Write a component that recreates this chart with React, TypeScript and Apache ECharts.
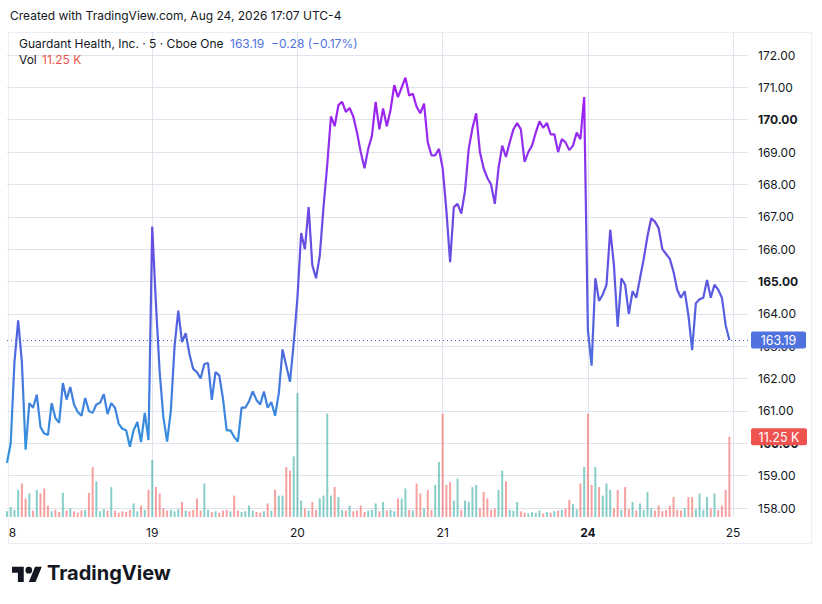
import React, { useEffect, useRef } from "react";
import * as echarts from "echarts";

// 10-minute samples of the last price, one array per trading day
const day18 = [159.4, 160.0, 162.5, 163.8, 162.5, 159.8, 161.24, 161.1, 161.5, 160.5, 160.3, 160.26, 161.24, 160.78, 160.63, 161.86, 161.35, 161.74, 161.2, 160.97, 160.85, 161.4, 161.0, 160.94, 161.2, 161.25, 161.52, 160.9, 161.24, 161.1, 160.6, 160.45, 160.4, 159.89, 160.4, 160.66, 160.04, 160.94, 160.1];
const day19 = [166.7, 164.3, 162.2, 160.8, 160.05, 161.0, 163.0, 164.1, 163.13, 163.4, 162.75, 162.3, 162.2, 162.0, 162.45, 162.48, 161.34, 162.2, 162.1, 161.38, 160.4, 160.4, 160.2, 160.05, 161.1, 161.1, 161.3, 161.6, 161.34, 161.2, 161.6, 161.1, 161.27, 160.85, 161.55, 162.9, 162.4, 161.9, 163.1];
const day20 = [164.5, 166.5, 166.0, 167.3, 165.5, 165.1, 165.8, 167.3, 168.6, 170.1, 169.8, 170.45, 170.55, 170.24, 170.36, 170.1, 169.6, 169.0, 168.5, 169.1, 169.5, 170.55, 169.7, 170.35, 169.8, 170.3, 171.07, 170.7, 171.0, 171.3, 170.75, 170.8, 170.4, 170.2, 170.5, 169.3, 168.9, 168.9, 169.1];
const day21 = [168.5, 167.2, 165.6, 167.3, 167.4, 167.1, 167.8, 169.1, 169.74, 170.2, 169.0, 168.5, 168.2, 168.0, 167.4, 168.5, 169.2, 168.85, 169.3, 169.7, 169.9, 169.7, 168.7, 169.0, 169.2, 169.6, 169.95, 169.75, 169.9, 169.55, 169.55, 169.0, 169.4, 169.3, 169.06, 169.2, 169.6, 169.4, 170.7];
const day24 = [163.5, 162.4, 165.1, 164.4, 164.6, 164.9, 166.6, 165.5, 163.6, 165.1, 164.9, 164.0, 164.7, 164.5, 165.1, 165.7, 166.4, 166.95, 166.85, 166.65, 166.0, 165.85, 165.7, 165.3, 164.74, 164.5, 164.7, 163.95, 162.88, 164.33, 164.45, 164.5, 165.05, 164.5, 164.9, 164.75, 164.5, 163.65, 163.19];

// volume (thousands of shares) per sample
const vol18 = [0.8, 1.4, 1.0, 3.8, 4.7, 2.6, 3.3, 0.9, 3.8, 3.3, 4.0, 1.6, 0.8, 1.0, 0.7, 3.4, 0.9, 1.2, 0.8, 0.6, 0.9, 1.0, 3.4, 7.0, 5.0, 0.8, 1.1, 0.9, 4.2, 0.9, 0.6, 0.8, 0.7, 1.0, 1.9, 0.8, 1.6, 1.0, 3.8];
const vol19 = [8.0, 4.2, 3.3, 1.2, 0.9, 1.0, 0.8, 1.1, 2.1, 0.9, 0.8, 1.0, 2.6, 0.9, 4.7, 1.0, 0.7, 0.8, 0.6, 0.9, 1.0, 0.8, 3.0, 0.9, 0.7, 0.8, 1.6, 0.9, 0.7, 0.6, 0.8, 1.9, 0.9, 3.8, 3.0, 3.0, 7.0, 6.5, 8.5];
const vol20 = [17.4, 2.3, 1.2, 0.9, 2.1, 1.0, 2.6, 3.0, 14.5, 3.0, 4.2, 2.8, 1.0, 0.9, 1.6, 0.8, 0.9, 1.6, 0.7, 0.9, 1.0, 1.9, 0.8, 2.1, 0.9, 1.0, 0.8, 2.6, 2.6, 4.0, 1.0, 0.9, 4.7, 3.3, 1.2, 3.8, 1.0, 4.5, 7.7];
const vol21 = [14.5, 4.5, 4.9, 2.3, 5.4, 1.0, 2.3, 2.1, 4.2, 4.5, 1.2, 3.5, 2.6, 1.0, 1.2, 3.8, 6.5, 5.0, 1.0, 0.9, 2.1, 0.8, 0.6, 0.5, 0.7, 0.6, 0.9, 0.5, 0.7, 0.6, 0.8, 0.9, 1.0, 1.2, 2.4, 1.8, 1.1, 4.7, 7.0];
const vol24 = [14.5, 4.5, 7.0, 4.2, 3.0, 4.7, 3.8, 1.2, 3.8, 1.0, 4.2, 1.1, 2.1, 0.9, 1.9, 1.0, 3.5, 1.2, 0.9, 1.6, 0.8, 1.0, 1.6, 2.8, 1.0, 0.9, 1.2, 2.8, 2.8, 1.1, 3.3, 1.0, 2.8, 1.2, 3.3, 1.0, 1.6, 3.8, 11.25];

const dayTickLabels = ["8", "19", "20", "21", "24", "25"];
const samplesPerDay = 39;
const totalSlots = 200;

const lastPrice = 163.19;
const lastVolume = 11.25;
const lastVolumeText = "11.25 K";

const FONT = "Inter, 'Noto Sans', sans-serif";
const TEXT = "#131722";
const GRID = "#e0e3eb";
const BLUE = "#4F72DE";
const RED = "#EF5350";

const price = [...day18, ...day19, ...day20, ...day21, ...day24];
const volume = [...vol18, ...vol19, ...vol20, ...vol21, ...vol24];
const categories = Array.from({ length: totalSlots }, (_, i) => String(i));
const tickIndex = dayTickLabels.map((_, k) => k * samplesPerDay);

const logoPath =
  "M14 22H7V11H0V4h14v18zM28 22h-8l7.5-18h8L28 22zM24 8a4 4 0 1 1-8 0a4 4 0 1 1 8 0z";

let registered = false;

export default function App() {
  const ref = useRef<HTMLDivElement>(null);

  useEffect(() => {
    document.body.style.margin = "0";
    if (!registered) {
      echarts.graphic.registerShape("tvlogo", echarts.graphic.extendPath(logoPath, {}));
      registered = true;
    }
    const chart = echarts.init(ref.current!, null, { renderer: "svg" });

    const volData = volume.map((v, i) => {
      const up = i === 0 || price[i] >= price[i - 1];
      return {
        value: v,
        itemStyle: { color: up ? "rgba(38,166,154,0.55)" : "rgba(239,83,80,0.55)" },
      };
    });

    const option: any = {
      animation: false,
      textStyle: { fontFamily: FONT },
      grid: [
        { left: 7, right: 74, top: 55, bottom: 96 },
        { left: 7, right: 74, top: 32, bottom: 87 },
      ],
      xAxis: [
        {
          type: "category",
          gridIndex: 0,
          data: categories,
          boundaryGap: false,
          show: false,
        },
        {
          type: "category",
          gridIndex: 1,
          data: categories,
          boundaryGap: false,
          axisLine: { show: false },
          axisTick: { show: false },
          axisLabel: {
            interval: (i: number) => tickIndex.includes(i),
            formatter: (_v: string, i: number) => {
              const k = tickIndex.indexOf(i);
              if (k < 0) return "";
              const t = dayTickLabels[k];
              if (k === 0) return `{f|${t}}`;
              if (t === "24") return `{b|${t}}`;
              return `{n|${t}}`;
            },
            margin: 9,
            rich: {
              n: { fontSize: 12, color: TEXT, fontFamily: FONT },
              b: { fontSize: 12, color: TEXT, fontFamily: FONT, fontWeight: "bold" },
              f: { fontSize: 12, color: TEXT, fontFamily: FONT, padding: [0, 0, 0, 11] },
            },
          },
          splitLine: {
            show: true,
            interval: (i: number) => i > 0 && tickIndex.includes(i),
            lineStyle: { color: GRID, width: 1 },
          },
        },
      ],
      yAxis: [
        {
          type: "value",
          gridIndex: 0,
          position: "right",
          min: 158,
          max: 172,
          interval: 1,
          axisLine: { show: false },
          axisTick: { show: false },
          splitLine: { lineStyle: { color: GRID, width: 1 } },
          axisLabel: {
            margin: 10,
            formatter: (v: number) =>
              v % 5 === 0 ? `{b|${v.toFixed(2)}}` : `{n|${v.toFixed(2)}}`,
            rich: {
              n: { fontSize: 12, color: TEXT, fontFamily: FONT },
              b: { fontSize: 12, color: TEXT, fontFamily: FONT, fontWeight: "bold" },
            },
          },
        },
        {
          type: "value",
          gridIndex: 1,
          min: 0,
          max: 68,
          show: false,
          splitLine: { show: false },
        },
      ],
      series: [
        {
          type: "bar",
          xAxisIndex: 1,
          yAxisIndex: 1,
          data: volData,
          barWidth: 2,
          z: 1,
        },
        {
          type: "line",
          xAxisIndex: 0,
          yAxisIndex: 0,
          data: price,
          showSymbol: false,
          z: 3,
          lineStyle: {
            width: 2.2,
            color: new echarts.graphic.LinearGradient(0, 0, 0, 1, [
              { offset: 0, color: "#A41CF2" },
              { offset: 0.19, color: "#9030EE" },
              { offset: 0.36, color: "#6E48E4" },
              { offset: 0.53, color: "#5C58E0" },
              { offset: 0.7, color: "#4F68DF" },
              { offset: 0.87, color: "#3C86DE" },
              { offset: 1, color: "#3296DC" },
            ]),
          },
          markLine: {
            silent: true,
            symbol: "none",
            lineStyle: { type: [1, 3], color: "#4a64b8", width: 1 },
            data: [{ yAxis: lastPrice }],
            label: { show: false },
          },
        },
      ],
    };

    chart.setOption(option);

    const yPrice = chart.convertToPixel({ yAxisIndex: 0 }, lastPrice) as number;
    const yVol = chart.convertToPixel({ yAxisIndex: 1 }, lastVolume) as number;
    const boxX = 751;
    const boxW = 55;
    const boxH = 17;

    const graphics: any[] = [
      {
        type: "rect",
        silent: true,
        shape: { x: 8.5, y: 32.5, width: 803, height: 511 },
        style: { fill: "none", stroke: "#eceef2", lineWidth: 1 },
        z: -1,
      },
      {
        type: "text",
        left: 10,
        top: 9,
        style: {
          text: "Created with TradingView.com, Aug 24, 2026 17:07 UTC-4",
          fontSize: 12,
          fill: TEXT,
          fontFamily: FONT,
        },
      },
      {
        type: "text",
        left: 19,
        top: 37,
        style: {
          text: "Guardant Health, Inc. · 5 · Cboe One",
          fontSize: 12,
          fill: TEXT,
          fontFamily: FONT,
        },
      },
      {
        type: "text",
        left: 230,
        top: 37,
        style: {
          text: "163.19  −0.28 (−0.17%)",
          fontSize: 12,
          fill: BLUE,
          fontFamily: FONT,
        },
      },
      {
        type: "text",
        left: 19,
        top: 53,
        style: { text: "Vol", fontSize: 12, fill: TEXT, fontFamily: FONT },
      },
      {
        type: "text",
        left: 42,
        top: 53,
        style: { text: lastVolumeText, fontSize: 12, fill: RED, fontFamily: FONT },
      },
      {
        type: "rect",
        z: 100,
        zlevel: 1,
        shape: { x: boxX, y: yPrice - boxH / 2, width: boxW, height: boxH, r: 2 },
        style: { fill: BLUE },
      },
      {
        type: "text",
        z: 101,
        zlevel: 1,
        x: boxX + boxW / 2,
        y: yPrice + 0.5,
        style: {
          text: lastPrice.toFixed(2),
          fontSize: 12.5,
          fill: "#fff",
          fontFamily: FONT,
          align: "center",
          verticalAlign: "middle",
        },
      },
      {
        type: "rect",
        z: 100,
        zlevel: 1,
        shape: { x: boxX, y: yVol - boxH / 2, width: boxW + 1, height: boxH, r: 2 },
        style: { fill: RED },
      },
      {
        type: "text",
        z: 101,
        zlevel: 1,
        x: boxX + (boxW + 1) / 2,
        y: yVol + 0.5,
        style: {
          text: lastVolumeText,
          fontSize: 12.5,
          fill: "#fff",
          fontFamily: FONT,
          align: "center",
          verticalAlign: "middle",
        },
      },
      {
        type: "tvlogo",
        x: 12,
        y: 563.5,
        scaleX: 0.84,
        scaleY: 0.84,
        style: { fill: TEXT },
      },
      {
        type: "text",
        left: 47,
        top: 563,
        style: {
          text: "TradingView",
          fontSize: 20,
          fontWeight: "bold",
          fill: TEXT,
          fontFamily: FONT,
        },
      },
    ];

    chart.setOption({ graphic: graphics });
    return () => chart.dispose();
  }, []);

  return <div ref={ref} style={{ width: 822, height: 604 }} />;
}
